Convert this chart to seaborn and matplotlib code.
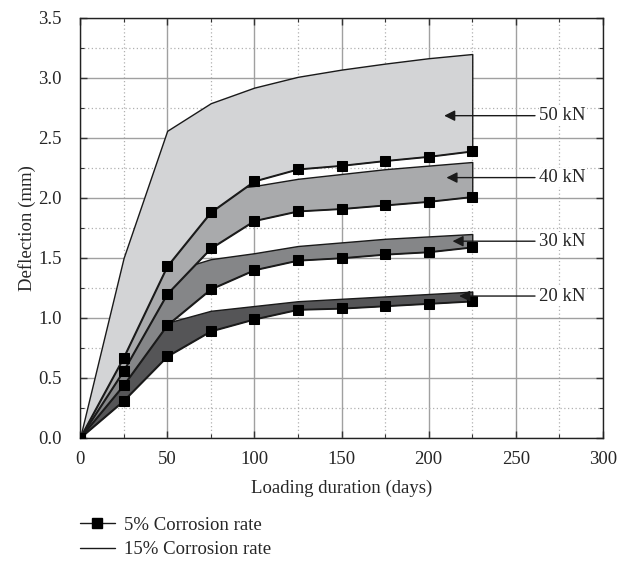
import matplotlib
matplotlib.use("Agg")
import matplotlib.pyplot as plt
from matplotlib.lines import Line2D
from matplotlib.ticker import MultipleLocator
import seaborn as sns
import pandas as pd

# ---- data ----
days = [0, 25, 50, 75, 100, 125, 150, 175, 200, 225]
loads = ["20 kN", "30 kN", "40 kN", "50 kN"]
rate5_20 = [0, 0.31, 0.68, 0.89, 0.99, 1.07, 1.08, 1.10, 1.12, 1.14]
rate5_30 = [0, 0.44, 0.94, 1.24, 1.40, 1.48, 1.50, 1.53, 1.55, 1.59]
rate5_40 = [0, 0.56, 1.20, 1.58, 1.81, 1.89, 1.91, 1.94, 1.97, 2.01]
rate5_50 = [0, 0.67, 1.43, 1.88, 2.14, 2.24, 2.27, 2.31, 2.345, 2.39]
rate15_20 = [0, 0.50, 0.96, 1.06, 1.10, 1.14, 1.16, 1.18, 1.20, 1.22]
rate15_30 = [0, 0.62, 1.38, 1.49, 1.54, 1.60, 1.63, 1.66, 1.68, 1.70]
rate15_40 = [0, 0.80, 1.65, 2.06, 2.10, 2.16, 2.20, 2.24, 2.27, 2.30]
rate15_50 = [0, 1.50, 2.56, 2.79, 2.92, 3.01, 3.07, 3.12, 3.165, 3.20]
band_colors = ["#555557", "#858688", "#a9aaac", "#d3d4d6"]
# annotation arrow heads (x, y) for each load label
arrow_x = [217.5, 213.7, 210.2, 208.9]
arrow_y = [1.183, 1.64, 2.17, 2.686]

rate5 = [rate5_20, rate5_30, rate5_40, rate5_50]
rate15 = [rate15_20, rate15_30, rate15_40, rate15_50]

FS = 13.5

sns.set_style("ticks")
plt.rcParams["font.family"] = ["Liberation Serif", "DejaVu Serif"]

fig = plt.figure(figsize=(6.29, 5.62), dpi=100)
ax = fig.add_axes([80 / 629, 1 - 438 / 562, (603 - 80) / 629, (438 - 18) / 562])

# bands (lower loads first, higher loads drawn on top)
for lo, hi, col in zip(rate5, rate15, band_colors):
    ax.fill_between(days, lo, hi, facecolor=col, edgecolor="#1a1a1a",
                    linewidth=1.0, zorder=2)

# 5% corrosion-rate lines with square markers
for lo, name in zip(rate5, loads):
    df = pd.DataFrame({"days": days, "defl": lo})
    sns.lineplot(data=df, x="days", y="defl", ax=ax, color="#1a1a1a",
                 linewidth=1.0, marker="s", markersize=7,
                 markeredgecolor="black", markerfacecolor="black",
                 zorder=4, legend=False)

# load labels with arrows
for name, hx, hy in zip(loads, arrow_x, arrow_y):
    ax.annotate("", xy=(hx, hy), xytext=(261, hy),
                arrowprops=dict(arrowstyle="-|>", color="#1a1a1a", lw=1.0,
                                mutation_scale=16, shrinkA=0, shrinkB=0),
                zorder=5)
    ax.text(263.5, hy, name, fontsize=FS, va="center", ha="left", zorder=5,
            bbox=dict(facecolor="white", edgecolor="none", pad=0.5))

ax.set_xlim(0, 300)
ax.set_ylim(0, 3.5)
ax.xaxis.set_major_locator(MultipleLocator(50))
ax.xaxis.set_minor_locator(MultipleLocator(25))
ax.yaxis.set_major_locator(MultipleLocator(0.5))
ax.yaxis.set_minor_locator(MultipleLocator(0.25))
ax.yaxis.set_major_formatter(matplotlib.ticker.FormatStrFormatter("%.1f"))
ax.grid(which="major", color="#a0a0a0", linewidth=1.0, linestyle="-", zorder=0)
ax.grid(which="minor", color="#b0b0b0", linewidth=0.9, linestyle=(0, (1, 2)), zorder=0)
ax.set_axisbelow(True)
ax.tick_params(which="both", direction="in", top=True, right=True,
               labelsize=FS, color="#333333")
ax.tick_params(which="major", length=5, width=1)
ax.tick_params(which="minor", length=3, width=0.8)
ax.tick_params(axis="x", which="major", pad=9)
ax.tick_params(axis="y", which="major", pad=13)
for sp in ax.spines.values():
    sp.set_color("#222222")
    sp.set_linewidth(1.0)
ax.set_xlabel("Loading duration (days)", fontsize=FS, labelpad=9)
ax.set_ylabel("Deflection (mm)", fontsize=FS, labelpad=2)

handles = [
    Line2D([], [], color="#1a1a1a", lw=1.0, marker="s", markersize=7,
           markerfacecolor="black", markeredgecolor="black"),
    Line2D([], [], color="#1a1a1a", lw=1.0),
]
fig.legend(handles, ["5% Corrosion rate", "15% Corrosion rate"],
           loc="upper left", bbox_to_anchor=(72 / 629, 1 - 509 / 562),
           frameon=False, fontsize=FS, handlelength=1.9,
           handletextpad=0.5, labelspacing=0.4, borderaxespad=0)

fig.savefig("out.png", dpi=100)
